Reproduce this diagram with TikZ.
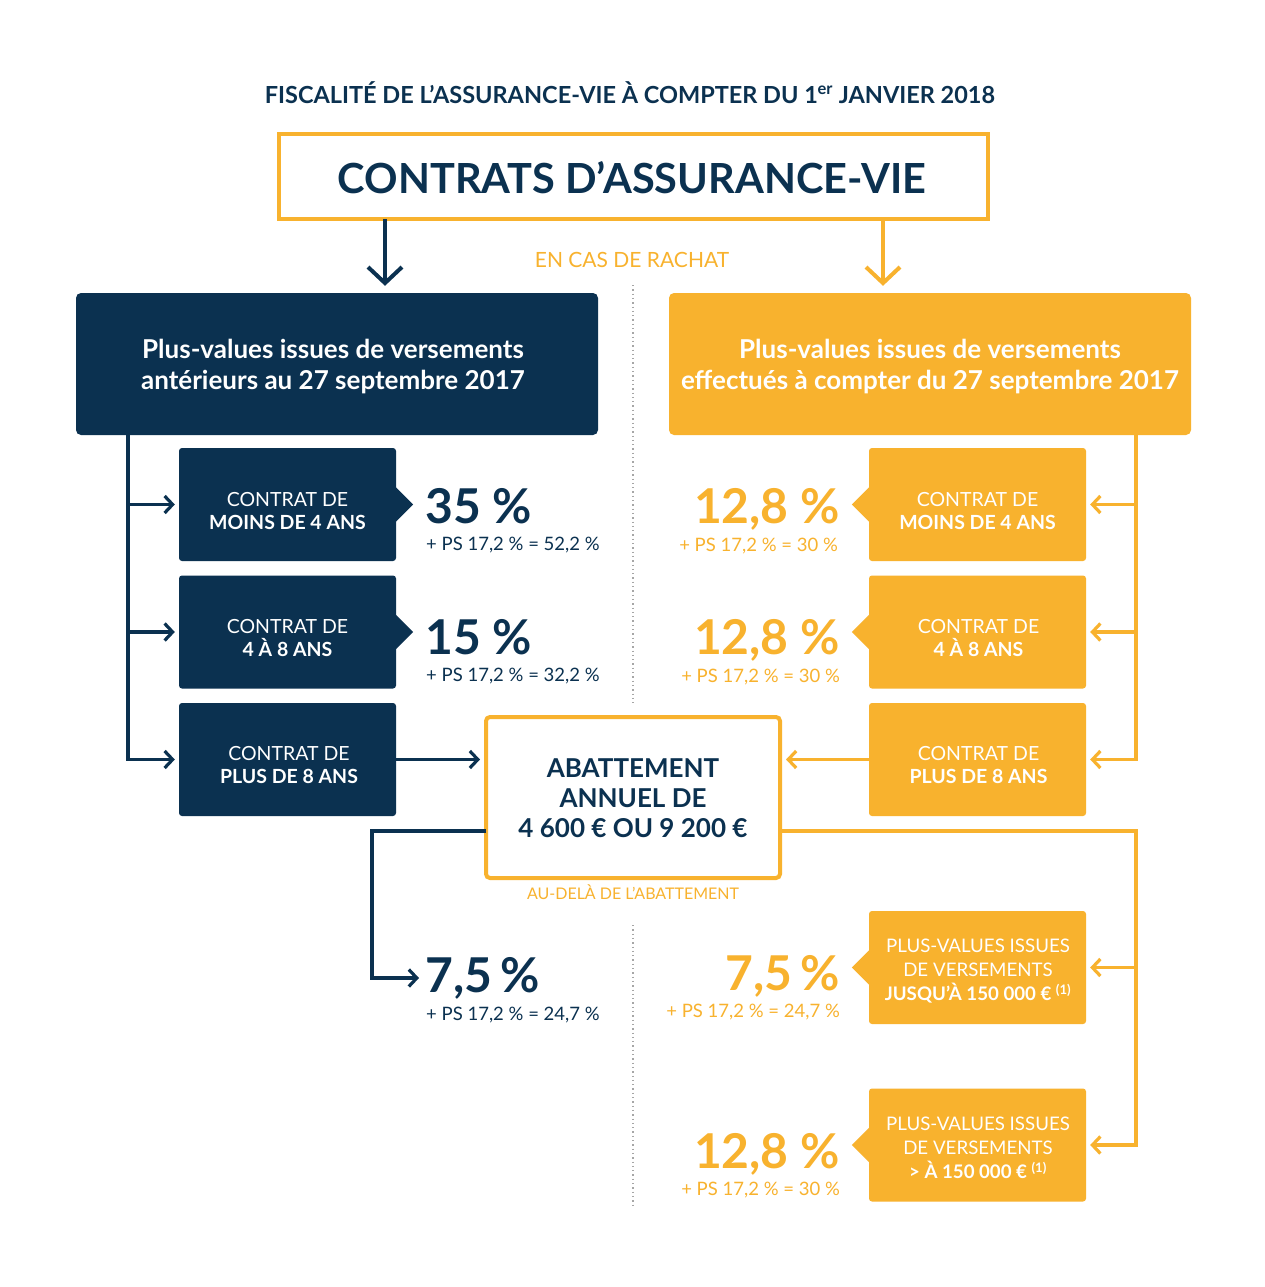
\documentclass[tikz,border=0pt]{standalone}
\usepackage{fontspec}
\setmainfont{Lato}
\usetikzlibrary{arrows.meta,calc}
\definecolor{navy}{HTML}{0B3150}
\definecolor{gold}{HTML}{F8B22E}
\newcommand{\fsz}[2]{\fontsize{#1}{#2}\selectfont}
\begin{document}
\begin{tikzpicture}[x=1pt,y=-1pt,
  conn/.style={line width=3.2pt},
  narr/.style={conn, draw=navy, -{Straight Barb[length=8pt,width=17pt]}, shorten >=4pt},
  oarr/.style={conn, draw=gold, -{Straight Barb[length=8pt,width=17pt]}, shorten >=4pt},
  bigarr/.style={line width=4pt, -{Straight Barb[length=16pt,width=34pt]}},
  navybox/.style={fill=navy, rounded corners=3pt, minimum width=217pt, minimum height=113pt, inner sep=0pt},
  goldbox/.style={fill=gold, rounded corners=3pt, minimum width=217pt, minimum height=113pt, inner sep=0pt},
  boxtext/.style={text=white, inner sep=0pt, align=center, font=\fsz{19.5}{23}},
  boxtext3/.style={text=white, inner sep=0pt, align=center, font=\fsz{18.7}{24}},
  bigtext/.style={text=white, inner sep=0pt, align=center, font=\bfseries\fsz{26}{31}},
  bigpct/.style={inner sep=0pt, font=\bfseries\fsz{48}{50}},
  ps/.style={inner sep=0pt, font=\fsz{18.5}{20}},
  dots/.style={draw=black!35, line width=1.3pt, dash pattern=on 1.3pt off 3pt}
]
\fill[white] (0,0) rectangle (1265,1287);
\useasboundingbox (0,0) rectangle (1265,1287);

% title
\node[text=navy, font=\bfseries\fsz{23.5}{28}, inner sep=0pt] (title) at (630,93) {FISCALITÉ DE L’ASSURANCE-VIE À COMPTER DU 1\textsuperscript{er} JANVIER 2018};

% top box
\node[draw=gold, line width=4pt, fill=white, minimum width=709pt, minimum height=85pt, inner sep=0pt] (T) at (633.5,176.5) {};
\node[text=navy, font=\bfseries\fsz{41.5}{46}, inner sep=0pt] (Tt) at (632,178) {CONTRATS D’ASSURANCE-VIE};

\node[text=gold, font=\fsz{21}{24}, inner sep=0pt] (rachat) at (632,260) {EN CAS DE RACHAT};

% dotted separators
\draw[dots] (633,285) -- (633,705);
\draw[dots] (633,925) -- (633,1205);

% big boxes
\node[fill=navy, rounded corners=5pt, minimum width=522pt, minimum height=142pt, inner sep=0pt] (L) at (337,364) {};
\node[bigtext] (Lt) at (333,367) {Plus-values issues de versements\\antérieurs au 27 septembre 2017};
\node[fill=gold, rounded corners=5pt, minimum width=522pt, minimum height=142pt, inner sep=0pt] (R) at (930,364) {};
\node[bigtext] (Rt) at (930,367) {Plus-values issues de versements\\effectués à compter du 27 septembre 2017};

% top arrows
\coordinate (xl) at (385,0);
\coordinate (xr) at (883,0);
\draw[bigarr, draw=navy, shorten <=-2pt, shorten >=7pt] (T.south -| xl) -- (L.north -| xl);
\draw[bigarr, draw=gold, shorten <=-2pt, shorten >=7pt] (T.south -| xr) -- (R.north -| xr);

% left small boxes
\node[navybox] (c1) at (287.5,504.5) {};
\node[navybox] (c2) at (287.5,632) {};
\node[navybox] (c3) at (287.5,759.5) {};
\node[boxtext] (c1t) at (287.5,511) {CONTRAT DE\\\textbf{MOINS DE 4 ANS}};
\node[boxtext] (c2t) at (287.5,638) {CONTRAT DE\\\textbf{4 À 8 ANS}};
\node[boxtext] (c3t) at (289,765) {CONTRAT DE\\\textbf{PLUS DE 8 ANS}};
\fill[navy] ($(c1.east)+(-1,-18)$) -- ($(c1.east)+(17,0)$) -- ($(c1.east)+(-1,18)$) -- cycle;
\fill[navy] ($(c2.east)+(-1,-18)$) -- ($(c2.east)+(17,0)$) -- ($(c2.east)+(-1,18)$) -- cycle;

% right small boxes
\node[goldbox] (d1) at (977.5,504.5) {};
\node[goldbox] (d2) at (977.5,632) {};
\node[goldbox] (d3) at (977.5,759.5) {};
\node[boxtext] (d1t) at (977.5,511) {CONTRAT DE\\\textbf{MOINS DE 4 ANS}};
\node[boxtext] (d2t) at (978.5,638) {CONTRAT DE\\\textbf{4 À 8 ANS}};
\node[boxtext] (d3t) at (978.5,765) {CONTRAT DE\\\textbf{PLUS DE 8 ANS}};
\fill[gold] ($(d1.west)+(1,-18)$) -- ($(d1.west)+(-17,0)$) -- ($(d1.west)+(1,18)$) -- cycle;
\fill[gold] ($(d2.west)+(1,-18)$) -- ($(d2.west)+(-17,0)$) -- ($(d2.west)+(1,18)$) -- cycle;

% lower right boxes
\node[goldbox] (e1) at (977.5,967.5) {};
\node[goldbox] (e2) at (977.5,1145) {};
\node[boxtext3] (e1t) at (978,971) {PLUS-VALUES ISSUES\\DE VERSEMENTS\\\textbf{JUSQU’À 150 000 € \textsuperscript{(1)}}};
\node[boxtext3] (e2t) at (978,1148) {PLUS-VALUES ISSUES\\DE VERSEMENTS\\\textbf{> À 150 000 € \textsuperscript{(1)}}};
\fill[gold] ($(e1.west)+(1,-18)$) -- ($(e1.west)+(-17,0)$) -- ($(e1.west)+(1,18)$) -- cycle;
\fill[gold] ($(e2.west)+(1,-18)$) -- ($(e2.west)+(-17,0)$) -- ($(e2.west)+(1,18)$) -- cycle;

% abattement
\node[draw=gold, line width=4pt, fill=white, rounded corners=4pt, minimum width=294pt, minimum height=161pt, inner sep=0pt] (A) at (633,797.5) {};
\node[inner sep=0pt, align=center, text=navy, font=\bfseries\fsz{26}{30}] (At) at (633,798) {ABATTEMENT\\ANNUEL DE\\4 600 € OU 9 200 €};
\node[text=gold, font=\fsz{16}{18}, inner sep=0pt] (audela) at (633,892) {AU-DELÀ DE L’ABATTEMENT};

% percentages left
\node[bigpct, text=navy, anchor=base west] (p1) at (425,523) {35 \%};
\node[ps, text=navy, anchor=base west] (s1) at (426,550) {+ PS 17,2 \% = 52,2 \%};
\node[bigpct, text=navy, anchor=base west] (p2) at (425,654) {15 \%};
\node[ps, text=navy, anchor=base west] (s2) at (426,681) {+ PS 17,2 \% = 32,2 \%};
\node[bigpct, text=navy, anchor=base west] (p3) at (425,992) {7,5\,\%};
\node[ps, text=navy, anchor=base west] (s3) at (426,1020) {+ PS 17,2 \% = 24,7 \%};

% percentages right
\node[bigpct, text=gold, anchor=base east] (q1) at (840,523) {12,8 \%};
\node[ps, text=gold, anchor=base east] (r1) at (838,551) {+ PS 17,2 \% = 30 \%};
\node[bigpct, text=gold, anchor=base east] (q2) at (840,654) {12,8 \%};
\node[ps, text=gold, anchor=base east] (r2) at (840,682) {+ PS 17,2 \% = 30 \%};
\node[bigpct, text=gold, anchor=base east] (q3) at (840,990) {7,5\,\%};
\node[ps, text=gold, anchor=base east] (r3) at (840,1017) {+ PS 17,2 \% = 24,7 \%};
\node[bigpct, text=gold, anchor=base east] (q4) at (840,1168) {12,8 \%};
\node[ps, text=gold, anchor=base east] (r4) at (840,1195) {+ PS 17,2 \% = 30 \%};

% left connectors
\coordinate (lt) at (128,435);
\draw[narr] (lt) |- (c1);
\draw[narr] (lt) |- (c2);
\draw[narr] (lt) |- (c3);
\draw[narr] (c3.east) -- (c3.east -| A.west);

% right connectors
\coordinate (rt) at (1136,435);
\draw[oarr] (rt) |- (d1);
\draw[oarr] (rt) |- (d2);
\draw[oarr] (rt) |- (d3);
\draw[oarr] (d3.west) -- (d3.west -| A.east);

% from abattement
\coordinate (aL) at (486,831);
\coordinate (aLc) at (372,831);
\coordinate (aLe) at (419,978);
\draw[conn, draw=navy, -{Straight Barb[length=8pt,width=17pt]}] (aL) -- (aLc) |- (aLe);
\coordinate (aR) at (780,831);
\coordinate (aRc) at (1136,831);
\draw[oarr] (aR) -- (aRc) |- (e2);
\draw[oarr] (aRc) |- (e1);
\end{tikzpicture}
\end{document}
